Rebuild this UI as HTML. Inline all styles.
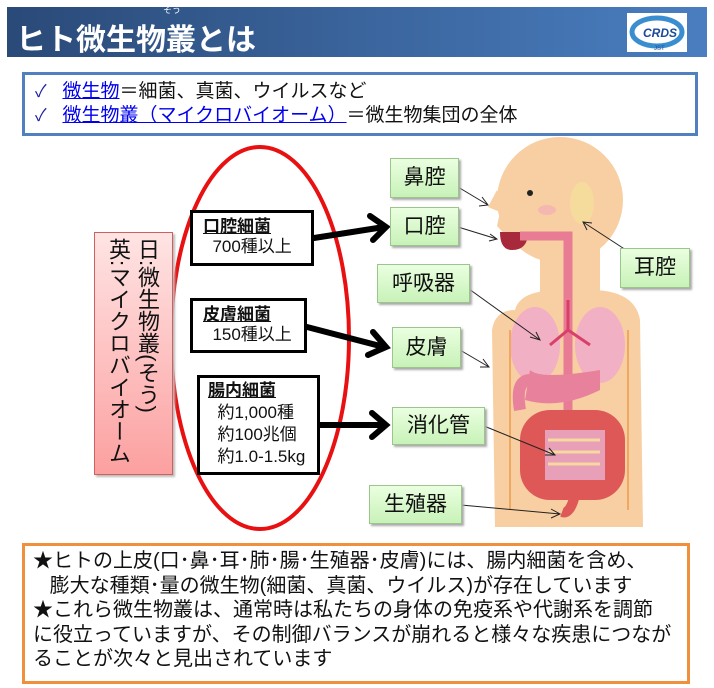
<!DOCTYPE html>
<html><head><meta charset="utf-8"><style>
body{margin:0;width:714px;height:688px;background:#fff;position:relative;overflow:hidden;font-family:"Liberation Sans","Noto Sans CJK JP",sans-serif;}
.a{position:absolute;}
.hdr{left:7px;top:7px;width:700px;height:50px;background:linear-gradient(90deg,#2a4a78,#4a7ec0);}
.g{position:absolute;background:linear-gradient(#eaffe0,#c8f2b8);border:1px solid #9cc48c;box-shadow:2px 2px 2px #aaa;font-size:21px;text-align:center;color:#111;}
.b{position:absolute;border:3px solid #000;background:#fff;font-size:17px;line-height:20px;color:#111;}
.b u{font-weight:bold;}
</style></head><body>
<div class="a hdr"></div>
<div class="a" style="left:16px;top:15px;color:#fff;font-size:30px;font-weight:bold;letter-spacing:0px;">ヒト微生物叢とは</div>
<div class="a" style="left:163px;top:3px;color:#fff;font-size:9px;">そう</div>
<div class="a" style="left:627px;top:13px;width:60px;height:39px;background:#fff;"></div>
<svg class="a" style="left:627px;top:13px" width="60" height="39"><ellipse cx="30" cy="19" rx="25" ry="14" fill="none" stroke="#3a8ed0" stroke-width="5"/><text x="16" y="24" font-size="12" font-style="italic" font-weight="bold" fill="#1a4a9a" font-family="Liberation Sans">CRDS</text><text x="27" y="37" font-size="6" fill="#1a4a9a" font-family="Liberation Sans">JST</text></svg>
<div class="a" style="left:22px;top:72px;width:670px;height:58px;border:3px solid #5080c0;"></div>
<div class="a" style="left:35px;top:80px;font-size:19px;line-height:24px;color:#111;white-space:nowrap;">
<span style="color:#1a1aa0;font-size:17px">✓</span>&nbsp;&nbsp;&nbsp;<span style="color:#0000ee;text-decoration:underline;">微生物</span>＝細菌、真菌、ウイルスなど<br>
<span style="color:#1a1aa0;font-size:17px">✓</span>&nbsp;&nbsp;&nbsp;<span style="color:#0000ee;text-decoration:underline;">微生物叢（マイクロバイオーム）</span>＝微生物集団の全体</div>

<svg class="a" style="left:0;top:0" width="714" height="688">
<g fill="#f8cfa2">
<circle cx="560" cy="200" r="63"/>
<rect x="540" y="230" width="60" height="80"/>
<path d="M515 310 Q520 290 560 290 L590 290 Q635 290 640 320 L643 527 L495 527 L492 330 Q495 310 515 310Z"/>
<path d="M497 190 L488 207 L500 212 L497 226 L510 240 L520 240 Z"/>
</g>
<circle cx="530" cy="193" r="3" fill="#222"/>
<ellipse cx="547" cy="210" rx="9" ry="5" fill="#f4b8b0"/>
<ellipse cx="582" cy="203" rx="12" ry="21" fill="#f6dc9c"/>
<path d="M500 232 L528 232 Q528 250 512 250 Q500 250 500 232Z" fill="#a8283c"/>
<path d="M520 236 L568 236 L568 420" stroke="#e87c94" stroke-width="9" fill="none"/>
<ellipse cx="535" cy="345" rx="25" ry="38" fill="#f2b0c4"/>
<ellipse cx="600" cy="345" rx="25" ry="38" fill="#f2b0c4"/>
<path d="M530 370 Q540 380 600 370 L600 390 Q560 410 525 400Z" fill="#e8829c"/>
<path d="M568 300 L568 330 M568 330 L550 345 M568 330 L590 345" stroke="#d8406a" stroke-width="3" fill="none"/>
<path d="M520 410 Q515 380 530 380" stroke="#e8829c" stroke-width="12" fill="none"/>
<rect x="520" y="410" width="105" height="90" rx="30" fill="#de5858"/>
<rect x="545" y="430" width="60" height="50" fill="#e8a0b8"/>
<path d="M548 440 H600 M548 452 H600 M548 464 H600" stroke="#f6d8a0" stroke-width="3"/>
<path d="M575 495 Q570 515 562 512" stroke="#de5858" stroke-width="10" fill="none"/>
<path d="M510 330 V510 M628 330 V510" stroke="#f0a860" stroke-width="2"/>
<g stroke="#222" stroke-width="1" fill="none">
<path d="M458 187 L488 205 M482 197 L488 205 L479 206"/>
<path d="M458 227 L497 239 M490 234 L497 239 L489 241"/>
<path d="M469 289 L540 340 M530 337 L540 340 L536 332"/>
<path d="M460 350 L489 367 M483 359 L489 367 L480 367"/>
<path d="M484 426 L555 455 M545 455 L555 455 L549 448"/>
<path d="M461 505 L560 514 M551 509 L560 514 L551 518"/>
<path d="M626 250 L583 222 M587 230 L583 222 L592 223"/>
</g>
<ellipse cx="260" cy="338" rx="89" ry="191" fill="none" stroke="#e81010" stroke-width="4"/>
<g stroke="#000" stroke-width="6" fill="none" stroke-linecap="round">
<path d="M314 238 L384 227 M370 216 L386 227 L373 240"/>
<path d="M307 327 L384 347 M373 332 L386 347 L368 355"/>
<path d="M320 425 L384 425 M372 413 L386 425 L372 437"/>
</g>
</svg>

<div class="a" style="left:94px;top:232px;width:77px;height:241px;background:linear-gradient(#ffe4e4,#fca0a0);border:1px solid #d06060;box-shadow:2px 2px 2px #bbb;"></div>
<div class="a" style="left:135px;top:238px;writing-mode:vertical-rl;font-size:22px;line-height:25px;color:#111;">日:微生物叢(そう)</div>
<div class="a" style="left:106px;top:238px;writing-mode:vertical-rl;font-size:22px;line-height:25px;color:#111;">英:マイクロバイオーム</div>

<div class="b" style="left:190px;top:210px;width:118px;height:50px;"><div style="margin:4px 0 0 10px"><u>口腔細菌</u><br>&nbsp;&nbsp;700種以上</div></div>
<div class="b" style="left:190px;top:298px;width:111px;height:49px;"><div style="margin:4px 0 0 10px"><u>皮膚細菌</u><br>&nbsp;&nbsp;150種以上</div></div>
<div class="b" style="left:197px;top:375px;width:117px;height:94px;"><div style="margin:2px 0 0 8px;line-height:22px"><u>腸内細菌</u><br>&nbsp;&nbsp;約1,000種<br>&nbsp;&nbsp;約100兆個<br>&nbsp;&nbsp;約1.0-1.5kg</div></div>

<div class="g" style="left:390px;top:158px;width:67px;height:38px;line-height:38px;">鼻腔</div>
<div class="g" style="left:390px;top:207px;width:67px;height:37px;line-height:37px;">口腔</div>
<div class="g" style="left:377px;top:264px;width:91px;height:37px;line-height:37px;">呼吸器</div>
<div class="g" style="left:392px;top:327px;width:67px;height:39px;line-height:39px;">皮膚</div>
<div class="g" style="left:392px;top:407px;width:91px;height:36px;line-height:36px;">消化管</div>
<div class="g" style="left:369px;top:485px;width:91px;height:37px;line-height:37px;">生殖器</div>
<div class="g" style="left:620px;top:248px;width:68px;height:38px;line-height:38px;">耳腔</div>

<div class="a" style="left:22px;top:543px;width:662px;height:135px;border:3px solid #f0903c;"></div>
<div class="a" style="left:33px;top:549px;font-size:20px;line-height:24.6px;color:#111;white-space:nowrap;">★ヒトの上皮(口･鼻･耳･肺･腸･生殖器･皮膚)には、腸内細菌を含め、<br>&nbsp;&nbsp;&nbsp;膨大な種類･量の微生物(細菌、真菌、ウイルス)が存在しています<br>★これら微生物叢は、通常時は私たちの身体の免疫系や代謝系を調節<br>に役立っていますが、その制御バランスが崩れると様々な疾患につなが<br>ることが次々と見出されています</div>
</body></html>
